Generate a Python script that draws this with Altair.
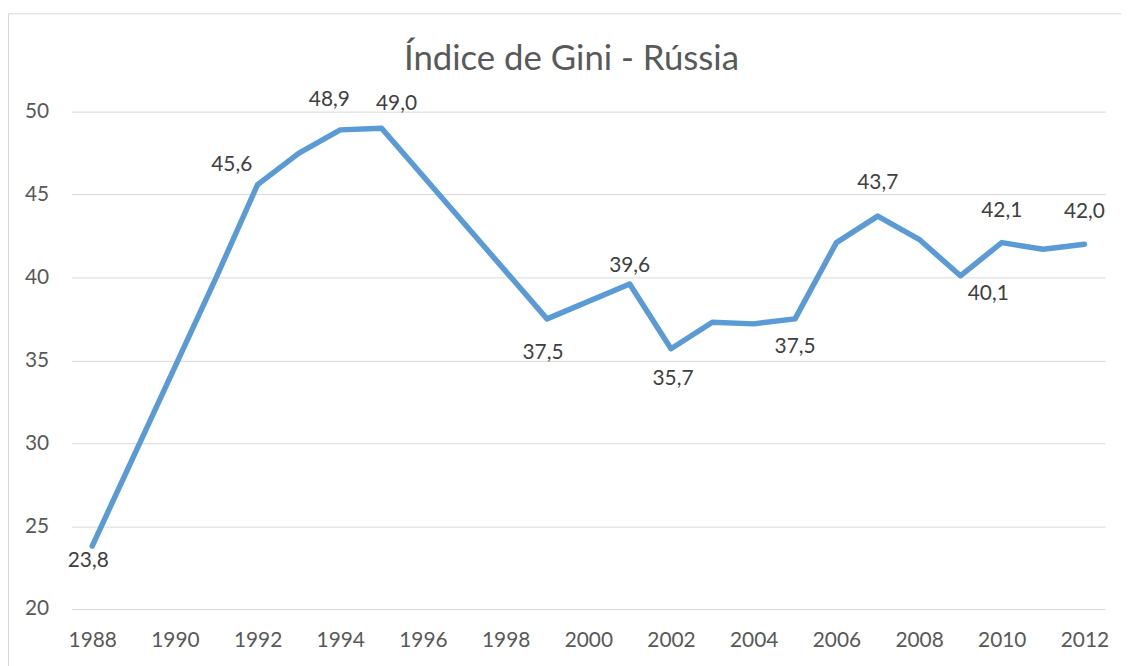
import altair as alt
import pandas as pd

# ---- data ----
years = [1988, 1991, 1992, 1993, 1994, 1995, 1999, 2001, 2002, 2003, 2004,
         2005, 2006, 2007, 2008, 2009, 2010, 2011, 2012]
gini = [23.8, 40.0, 45.6, 47.5, 48.9, 49.0, 37.5, 39.6, 35.7, 37.3, 37.2,
        37.5, 42.1, 43.7, 42.3, 40.1, 42.1, 41.7, 42.0]
label_years = [1988, 1992, 1994, 1995, 1999, 2001, 2002, 2005, 2007, 2009, 2010, 2012]
x_ticks = [1988, 1990, 1992, 1994, 1996, 1998, 2000, 2002, 2004, 2006, 2008, 2010, 2012]
y_ticks = [20, 25, 30, 35, 40, 45, 50]
title_text = "Índice de Gini - Rússia"

# ---- style ----
FONT = "Lato"
LINE = "#5B9BD5"
GRID = "#D9D9D9"
AXIS_TXT = "#595959"
LABEL_TXT = "#404040"
# manual data-label placement (dx, dy) in pixels, like the Excel original
label_offsets = {
    1988: (-4, 15), 1992: (-26, -20), 1994: (-11, -30), 1995: (15, -24),
    1999: (-4, 34), 2001: (0, -18), 2002: (2, 31), 2005: (0, 28),
    2007: (0, -33), 2009: (28, 18), 2010: (0, -32), 2012: (0, -32),
}

df = pd.DataFrame({"ano": years, "gini": gini})

x_enc = alt.X(
    "ano:Q",
    scale=alt.Scale(domain=[1987.5, 2012.5], nice=False, zero=False),
    axis=alt.Axis(values=x_ticks, format="d", title=None, grid=False, ticks=False,
                  domain=False, labelPadding=21, labelFontSize=21, labelColor=AXIS_TXT,
                  labelFont=FONT, labelFlush=False),
)
y_enc = alt.Y(
    "gini:Q",
    scale=alt.Scale(domain=[20, 50], nice=False, zero=False),
    axis=alt.Axis(values=y_ticks, title=None, ticks=False, domain=False, grid=True,
                  gridColor=GRID, gridWidth=1, labelPadding=23, labelFontSize=21,
                  labelColor=AXIS_TXT, labelFont=FONT),
)

base = alt.Chart(df)

line = base.mark_line(color=LINE, strokeWidth=5.5, strokeCap="round",
                      strokeJoin="round").encode(x=x_enc, y=y_enc)

labels = []
for yr in label_years:
    dx, dy = label_offsets[yr]
    labels.append(
        base.transform_filter(alt.datum.ano == yr)
        .transform_calculate(txt="replace(format(datum.gini, '.1f'), '.', ',')")
        .mark_text(font=FONT, fontSize=21, color=LABEL_TXT, align="center",
                   baseline="middle", dx=dx, dy=dy)
        .encode(x="ano:Q", y="gini:Q", text="txt:N")
    )

frame_df = pd.DataFrame({"k": [0]})
frame_left = alt.Chart(frame_df).mark_rule(color=GRID, strokeWidth=1).encode(
    x=alt.value(-63.5), y=alt.value(-98.5), y2=alt.value(560))
frame_top = alt.Chart(frame_df).mark_rule(color=GRID, strokeWidth=1).encode(
    x=alt.value(-63.5), x2=alt.value(1060), y=alt.value(-98.5))

chart = (
    alt.layer(line, *labels, frame_left, frame_top)
    .properties(
        width=1041, height=501,
        autosize=alt.AutoSizeParams(type="none"),
        padding={"left": 64, "top": 102, "right": 16, "bottom": 55},
        title=alt.Title(title_text, fontSize=35, font=FONT, color=AXIS_TXT,
                        fontWeight="normal", anchor="middle", dx=-17, offset=-64),
        background="white",
    )
    .configure_view(stroke=None)
)

chart.save("out.html", embed_options={"renderer": "svg", "actions": False})
